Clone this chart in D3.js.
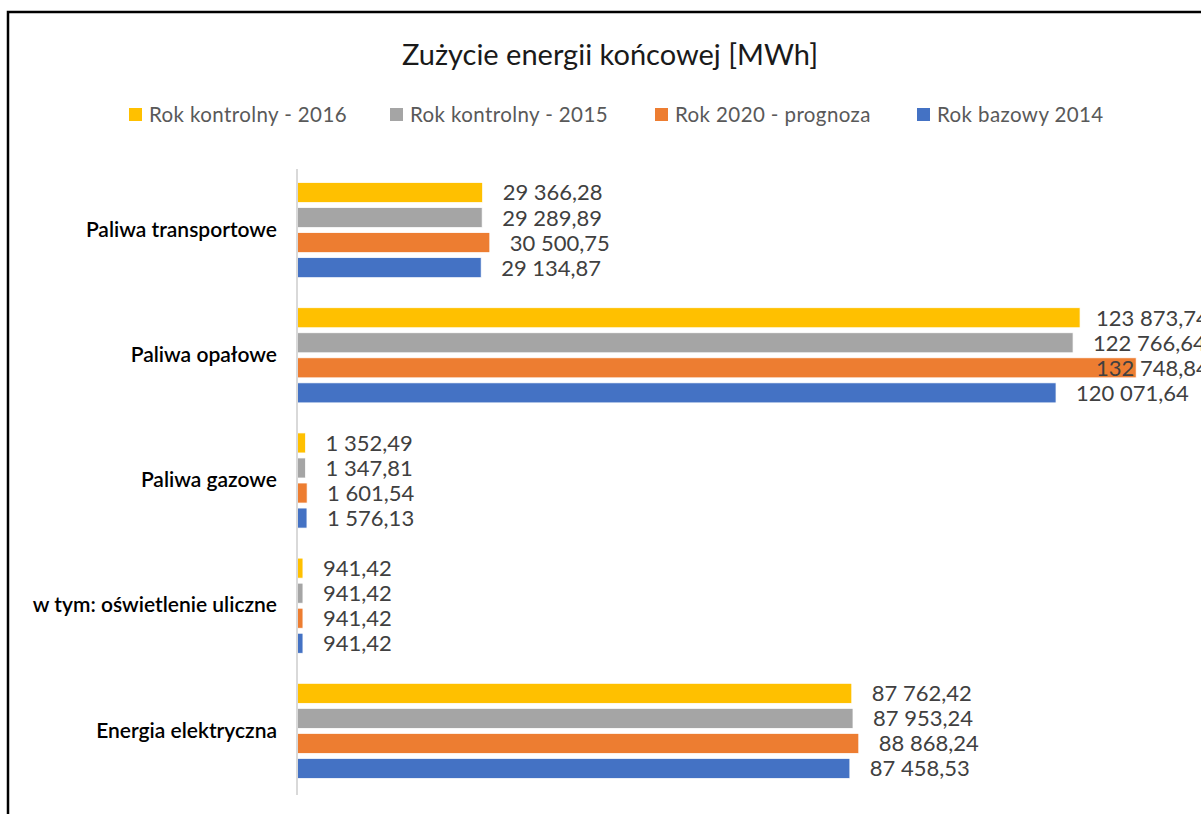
<!DOCTYPE html>
<html><head><meta charset="utf-8">
<script src="https://cdn.jsdelivr.net/npm/d3@7"></script>
<style>body{margin:0;background:#fff}svg{display:block}</style>
</head><body>
<script>
const categories = ["Paliwa transportowe","Paliwa opałowe","Paliwa gazowe","w tym: oświetlenie uliczne","Energia elektryczna"];
const seriesNames = ["Rok kontrolny - 2016","Rok kontrolny - 2015","Rok 2020 - prognoza","Rok bazowy 2014"];
const values2016 = [29366.28, 123873.74, 1352.49, 941.42, 87762.42];
const values2015 = [29289.89, 122766.64, 1347.81, 941.42, 87953.24];
const values2020 = [30500.75, 132748.84, 1601.54, 941.42, 88868.24];
const values2014 = [29134.87, 120071.64, 1576.13, 941.42, 87458.53];
const seriesColors = ["#FFC000","#A5A5A5","#ED7D31","#4472C4"];
const title = "Zużycie energii końcowej [MWh]";

const seriesValues = [values2016, values2015, values2020, values2014];
const W = 1201, H = 814;
const svg = d3.select("body").append("svg").attr("width", W).attr("height", H);

// frame
svg.append("rect").attr("x", 8).attr("y", 12).attr("width", 1300).attr("height", 1000)
  .attr("fill", "#fff").attr("stroke", "#000").attr("stroke-width", 2.5);

svg.append("text").attr("x", 610).attr("y", 65).attr("text-anchor", "middle")
  .attr("font-family", "Lato, sans-serif").attr("font-size", 29).attr("fill", "#1a1a1a").text(title);

// legend
const legendX = [129, 390, 655, 917];
const lg = svg.append("g");
seriesNames.forEach((n, i) => {
  lg.append("rect").attr("x", legendX[i]).attr("y", 108).attr("width", 13).attr("height", 13).attr("fill", seriesColors[i]);
  lg.append("text").attr("x", legendX[i] + 20).attr("y", 122).attr("font-family", "Lato, sans-serif")
    .attr("font-size", 20.5).attr("letter-spacing", 0.4).attr("fill", "#595959").text(n);
});

const x = d3.scaleLinear().domain([0, 140000]).range([297, 1182]);
const y0 = d3.scaleBand().domain(categories).range([167.5, 793.5]).paddingInner(0.2).paddingOuter(0.1);
const y1 = d3.scaleBand().domain(d3.range(4)).range([0, y0.bandwidth()]).paddingInner(0.2).paddingOuter(0.1);

const loc = d3.formatLocale({decimal: ",", thousands: " ", grouping: [3]});
const fmt = loc.format(",.2f");

const g = svg.append("g");
categories.forEach((c, ci) => {
  seriesValues.forEach((vals, si) => {
    const v = vals[ci];
    const yy = y0(c) + y1(si);
    g.append("rect").attr("x", x(0)).attr("y", yy).attr("width", x(v) - x(0)).attr("height", y1.bandwidth())
      .attr("fill", seriesColors[si]).attr("stroke", "#fff").attr("stroke-width", 0.75);
  });
});
categories.forEach((c, ci) => {
  seriesValues.forEach((vals, si) => {
    const v = vals[ci];
    const yy = y0(c) + y1(si) + y1.bandwidth() / 2;
    g.append("text").attr("x", Math.min(x(v) + 20, 1096)).attr("y", yy).attr("dy", "0.36em")
      .attr("font-family", "Lato, sans-serif").attr("font-size", 22).attr("fill", "#404040").text(fmt(v));
  });
});

// axis
const yAxis = d3.axisLeft(y0).tickSize(0).tickPadding(20);
const ax = svg.append("g").attr("transform", `translate(${x(0)},0)`).call(yAxis);
ax.select(".domain").attr("stroke", "#D9D9D9").attr("stroke-width", 2).attr("d", `M0,169V795`);
ax.selectAll("text").attr("font-family", "Lato, sans-serif").attr("font-size", 21).attr("font-weight", 600).attr("fill", "#000");
</script>
</body></html>
